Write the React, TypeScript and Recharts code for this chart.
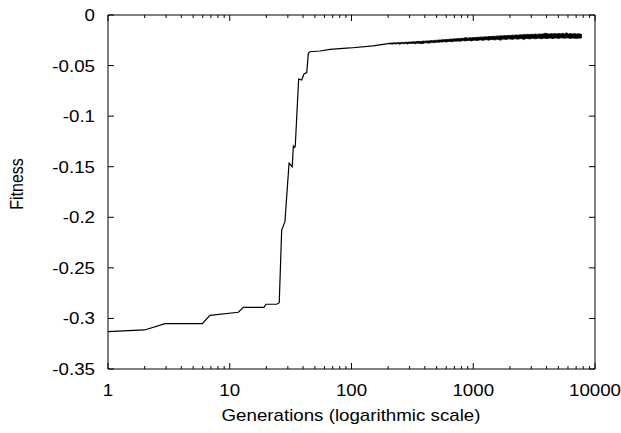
import { Area, ComposedChart, Line, XAxis, YAxis } from "recharts";

// generation -> best fitness, the stepwise part before the noise starts
const stepGens = [
  1, 2, 2.94, 5.95, 6.88, 11.76, 12.92, 19.1, 19.85, 24.3, 25.5, 26.7, 28.4, 30.7, 32.6, 33.3, 34, 34.5,
  36.8, 39, 40.7, 42.9, 44.2, 45.6, 55.1, 66.6, 97, 150, 200,
];
const stepFitness = [
  -0.3131, -0.3114, -0.3052, -0.3052, -0.2969, -0.2939, -0.289, -0.289, -0.286, -0.286, -0.2845, -0.2126,
  -0.2043, -0.1466, -0.15, -0.1295, -0.131, -0.13, -0.0633, -0.0643, -0.0583, -0.057, -0.0379, -0.0363,
  -0.0356, -0.0339, -0.0326, -0.0305, -0.0283,
];

// noisy tail: upper and lower edge of the band
const bandGens = [
  200, 207, 215, 223, 231, 240, 249, 258, 268, 278, 288, 299, 310, 322, 334, 346, 359, 373, 387, 401, 416,
  432, 448, 465, 482, 500, 519, 538, 558, 579, 601, 623, 647, 671, 696, 722, 749, 777, 806, 836, 867, 900,
  933, 968, 1004, 1042, 1081, 1121, 1163, 1207, 1252, 1299, 1347, 1398, 1450, 1504, 1560, 1619, 1679, 1742,
  1807, 1875, 1945, 2017, 2093, 2171, 2252, 2336, 2424, 2514, 2608, 2706, 2807, 2912, 3021, 3134, 3251,
  3372, 3498, 3629, 3765, 3906, 4052, 4203, 4360, 4523, 4693, 4868, 5050, 5239, 5435, 5638, 5849, 6068,
  6294, 6530, 6774, 7027, 7290, 7563, 7800,
];
const bandHigh = [
  -0.028, -0.0277, -0.0278, -0.0275, -0.0276, -0.0272, -0.0274, -0.0271, -0.0272, -0.0269, -0.027, -0.0267,
  -0.0268, -0.0264, -0.0266, -0.0263, -0.0261, -0.0262, -0.0258, -0.0259, -0.0256, -0.0257, -0.0253,
  -0.0254, -0.025, -0.0251, -0.0247, -0.0248, -0.0244, -0.0245, -0.0241, -0.0242, -0.0238, -0.024, -0.0235,
  -0.0237, -0.0232, -0.0234, -0.023, -0.0231, -0.0222, -0.0229, -0.0225, -0.0226, -0.0222, -0.0224, -0.022,
  -0.0221, -0.0217, -0.0219, -0.0215, -0.0217, -0.0212, -0.0214, -0.021, -0.0212, -0.0208, -0.0209, -0.0205,
  -0.0207, -0.0203, -0.0205, -0.0201, -0.0203, -0.0199, -0.0201, -0.0197, -0.02, -0.0195, -0.0198, -0.0193,
  -0.0196, -0.0191, -0.0194, -0.019, -0.0193, -0.0188, -0.0192, -0.0187, -0.0191, -0.0186, -0.018, -0.0185,
  -0.0189, -0.0184, -0.0188, -0.0183, -0.0188, -0.0182, -0.0187, -0.0181, -0.0187, -0.0176, -0.0188,
  -0.0183, -0.0188, -0.0184, -0.0189, -0.0185, -0.0189, -0.0192,
];
const bandLow = [
  -0.0286, -0.0285, -0.0288, -0.0284, -0.0286, -0.0283, -0.0289, -0.0282, -0.0284, -0.0281, -0.0287, -0.028,
  -0.0282, -0.0279, -0.0285, -0.0277, -0.0279, -0.0283, -0.0281, -0.0275, -0.0274, -0.0279, -0.0272,
  -0.0271, -0.0274, -0.0268, -0.027, -0.0266, -0.0267, -0.0263, -0.0268, -0.0262, -0.0261, -0.0265, -0.0258,
  -0.0259, -0.0256, -0.026, -0.0255, -0.0253, -0.0257, -0.0251, -0.0252, -0.0256, -0.0249, -0.025, -0.0253,
  -0.0247, -0.0246, -0.0251, -0.0244, -0.0245, -0.0249, -0.0242, -0.0243, -0.0247, -0.024, -0.0241, -0.025,
  -0.0238, -0.0239, -0.0243, -0.0236, -0.0237, -0.0241, -0.0235, -0.0236, -0.024, -0.0233, -0.0234, -0.0243,
  -0.0232, -0.0233, -0.0237, -0.0231, -0.0232, -0.0236, -0.023, -0.0231, -0.0235, -0.0229, -0.023, -0.0234,
  -0.0228, -0.0229, -0.0233, -0.0227, -0.0228, -0.0232, -0.0226, -0.0227, -0.0231, -0.0226, -0.0228,
  -0.0232, -0.0227, -0.0229, -0.0233, -0.0228, -0.0229, -0.0224,
];

const majorX = [1, 10, 100, 1000, 10000];
const minorX = [
  2, 3, 4, 5, 6, 7, 8, 9, 20, 30, 40, 50, 60, 70, 80, 90, 200, 300, 400, 500, 600, 700, 800, 900, 2000, 3000,
  4000, 5000, 6000, 7000, 8000, 9000,
];
const yTicks = [0, -0.05, -0.1, -0.15, -0.2, -0.25, -0.3, -0.35];

const stepData = stepGens.map((gen, i) => ({ gen, fitness: stepFitness[i] }));
const bandData = bandGens.map((gen, i) => ({ gen, low: bandLow[i], high: bandHigh[i] }));
const xTicks = [...majorX, ...minorX].sort((a, b) => a - b);

const FONT = '"Liberation Sans", Arial, Helvetica, sans-serif';
const STRETCH = 1.17;
const textStyle = { fontFamily: FONT, fontSize: 16, fill: "#000" };

function BottomTick({ x, y, payload }: any) {
  const major = majorX.includes(payload.value);
  return (
    <g>
      <line x1={x} y1={y} x2={x} y2={y - (major ? 6 : 3)} stroke="#000" />
      {major ? (
        <text transform={`translate(${x},${y + 27}) scale(${STRETCH},1)`} textAnchor="middle" {...textStyle}>
          {payload.value}
        </text>
      ) : null}
    </g>
  );
}

function TopTick({ x, y, payload }: any) {
  const major = majorX.includes(payload.value);
  return <line x1={x} y1={y} x2={x} y2={y + (major ? 6 : 3)} stroke="#000" />;
}

function LeftTick({ x, y, payload }: any) {
  return (
    <g>
      <line x1={x} y1={y} x2={x + 6} y2={y} stroke="#000" />
      <text transform={`translate(${x - 13},${y + 6}) scale(${STRETCH},1)`} textAnchor="end" {...textStyle}>
        {String(payload.value)}
      </text>
    </g>
  );
}

function RightTick({ x, y }: any) {
  return <line x1={x} y1={y} x2={x - 6} y2={y} stroke="#000" />;
}

export default function App() {
  return (
    <div style={{ position: "absolute", left: 0, top: 0, width: 621, height: 433, background: "#fff" }}>
      <ComposedChart width={621} height={433} margin={{ top: 0, right: 0, bottom: 0, left: 0 }}>
        <XAxis
          xAxisId="bottom"
          type="number"
          dataKey="gen"
          scale="log"
          domain={[1, 10000]}
          allowDataOverflow
          ticks={xTicks}
          interval={0}
          orientation="bottom"
          height={64}
          tickSize={0}
          tickMargin={0}
          tickLine={false}
          axisLine={{ stroke: "#000" }}
          tick={(props: any) => <BottomTick {...props} />}
        />
        <XAxis
          xAxisId="top"
          type="number"
          dataKey="gen"
          scale="log"
          domain={[1, 10000]}
          allowDataOverflow
          ticks={xTicks}
          interval={0}
          orientation="top"
          height={15}
          tickSize={0}
          tickMargin={0}
          tickLine={false}
          axisLine={{ stroke: "#000" }}
          tick={(props: any) => <TopTick {...props} />}
        />
        <YAxis
          yAxisId="left"
          type="number"
          domain={[-0.35, 0]}
          allowDataOverflow
          ticks={yTicks}
          interval={0}
          width={108}
          tickSize={0}
          tickMargin={0}
          tickLine={false}
          axisLine={{ stroke: "#000" }}
          tick={(props: any) => <LeftTick {...props} />}
        />
        <YAxis
          yAxisId="right"
          orientation="right"
          type="number"
          domain={[-0.35, 0]}
          allowDataOverflow
          ticks={yTicks}
          interval={0}
          width={26}
          tickSize={0}
          tickMargin={0}
          tickLine={false}
          axisLine={{ stroke: "#000" }}
          tick={(props: any) => <RightTick {...props} />}
        />
        <Area
          xAxisId="bottom"
          yAxisId="left"
          data={bandData}
          dataKey={(d: any) => [d.low, d.high]}
          type="linear"
          stroke="#000"
          strokeWidth={0.8}
          fill="#000"
          fillOpacity={1}
          isAnimationActive={false}
        />
        <Line
          xAxisId="bottom"
          yAxisId="left"
          data={stepData}
          dataKey="fitness"
          type="linear"
          stroke="#000"
          strokeWidth={1.2}
          dot={false}
          isAnimationActive={false}
        />
        <text
          transform={`translate(23,184) scale(${STRETCH},1) rotate(-90)`}
          textAnchor="middle"
          {...textStyle}
        >
          Fitness
        </text>
        <text transform={`translate(351,421) scale(${STRETCH},1)`} textAnchor="middle" {...textStyle}>
          Generations (logarithmic scale)
        </text>
      </ComposedChart>
    </div>
  );
}
